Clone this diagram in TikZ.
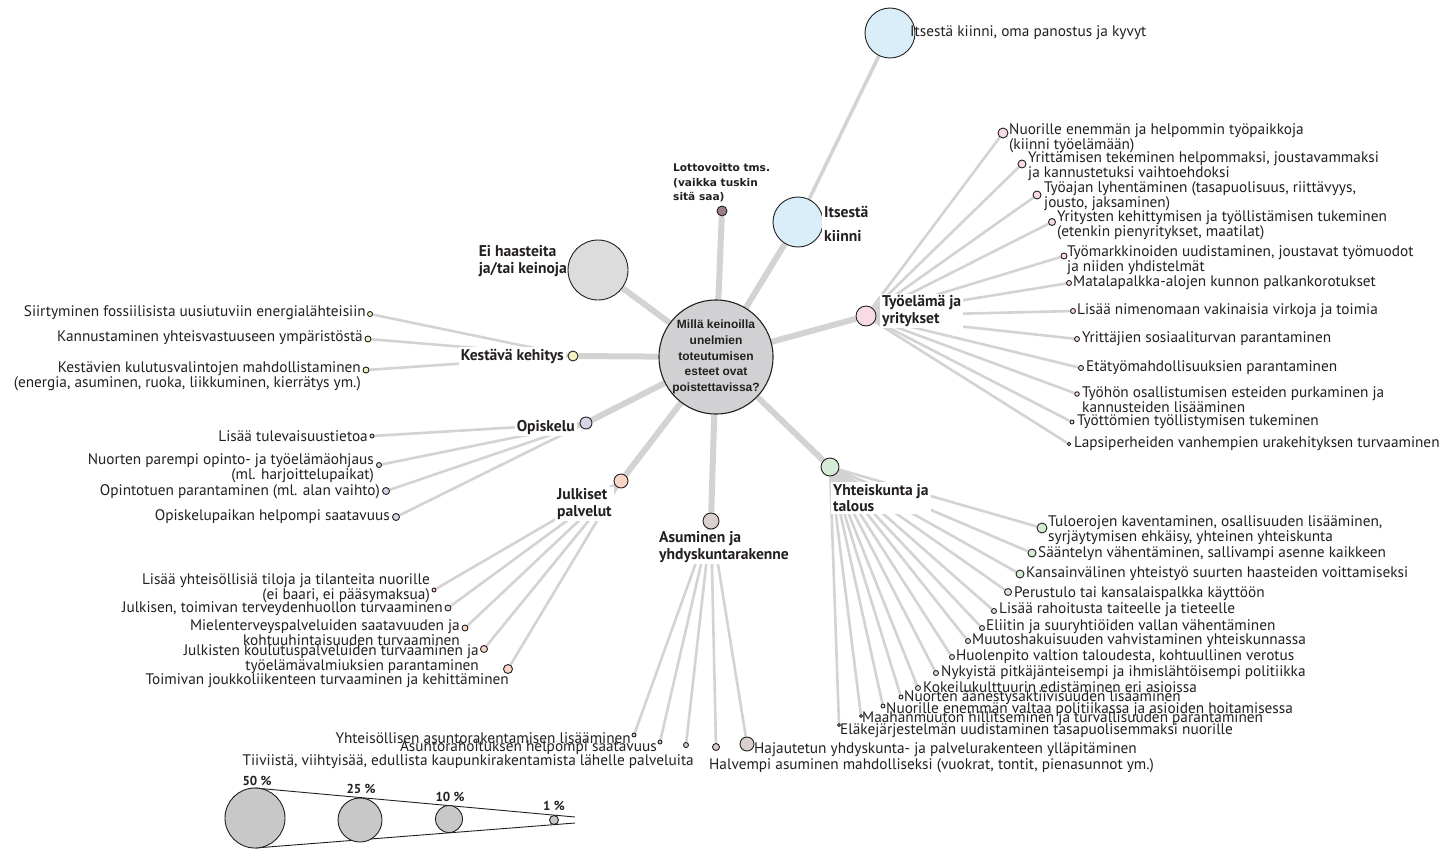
\documentclass[tikz,border=0pt]{standalone}
\usepackage{fontspec}
\setmainfont{PT Sans}
\newfontfamily\arialf{Liberation Sans}
\newfontfamily\verdf{DejaVu Sans}
\usetikzlibrary{backgrounds}
\definecolor{txt}{HTML}{231F20}
\definecolor{lgray}{HTML}{D3D3D3}
\definecolor{cfill}{HTML}{D1D1D3}
\definecolor{bfill}{HTML}{D9EEF9}
\definecolor{lotfill}{HTML}{9C7D8C}
\definecolor{eifill}{HTML}{DCDCDD}
\definecolor{yfill}{HTML}{F4F1C2}
\definecolor{ofill}{HTML}{D6D5EA}
\definecolor{jfill}{HTML}{F8D6C5}
\definecolor{afill}{HTML}{D9CFCD}
\definecolor{gfill}{HTML}{D6EAD6}
\definecolor{pfill}{HTML}{F8DBE4}
\definecolor{legfill}{HTML}{C8C8C8}
\newcommand\leaffont{\fontsize{15.3}{13.8}\selectfont}
\newcommand\hubfont{\fontsize{15.6}{16.5}\selectfont\bfseries}
\begin{document}
\begin{tikzpicture}[x=1pt,y=-1pt,
  bub/.style={circle, draw=txt, line width=0.9pt, inner sep=0pt, minimum size=#1},
  hubline/.style={line width=6pt, lgray},
  midline/.style={line width=3.5pt, lgray},
  leafline/.style={line width=2.6pt, lgray},
  lf/.style={font=\leaffont, text=txt, inner sep=1pt},
  lfl/.style={lf, anchor=west, align=left},
  lfr/.style={lf, anchor=east, align=right},
  hl/.style={font=\hubfont, text=txt, inner sep=2pt, fill=white}]
\useasboundingbox (0,0) rectangle (1456,852);

% ---- hubs
\node[bub=110pt, fill=cfill, line width=1.1pt, align=center, text=txt,
  font={\arialf\bfseries\fontsize{12}{15.7}\selectfont}] (C) at (716,357)
  {Millä keinoilla\\unelmien\\toteutumisen\\esteet ovat\\poistettavissa?};
\node[bub=50pt, fill=bfill] (I) at (798,222) {};
\node[bub=50pt, fill=bfill] (IT) at (890,33) {};
\node[bub=10pt, fill=lotfill] (L) at (722,211) {};
\node[bub=60pt, fill=eifill] (E) at (598,270) {};
\node[bub=10pt, fill=yfill] (K) at (573,356) {};
\node[bub=12pt, fill=ofill] (O) at (586,423) {};
\node[bub=14pt, fill=jfill] (J) at (621,481) {};
\node[bub=16pt, fill=afill] (A) at (711,521) {};
\node[bub=18pt, fill=gfill] (Y) at (830,467) {};
\node[bub=20pt, fill=pfill] (T) at (866,316) {};

% ---- hub labels
\node[lfl] (ITt) at (909,33) {Itsestä kiinni, oma panostus ja kyvyt};
\node[hl, anchor=west, align=left, font=\fontsize{15.6}{24}\selectfont\bfseries] (It) at (822,224) {Itsestä\\kiinni};
\node[anchor=west, align=left, text=txt, inner sep=1pt,
  font={\verdf\bfseries\fontsize{10.6}{14.5}\selectfont}] (Lt) at (672,183)
  {Lottovoitto tms.\\(vaikka tuskin\\sitä saa)};
\node[hl, anchor=east, align=left, fill=none] (Et) at (569,261) {Ei haasteita\\ja/tai keinoja};
\node[hl, anchor=east] (Kt) at (566,356) {Kestävä kehitys};
\node[hl, anchor=east] (Ot) at (577,427) {Opiskelu};
\node[hl, anchor=west, align=left] (Jt) at (555,504) {Julkiset\\palvelut};
\node[hl, anchor=west, align=left] (At) at (657,547) {Asuminen ja\\yhdyskuntarakenne};
\node[hl, anchor=west, align=left] (Yt) at (831,498) {Yhteiskunta ja\\talous};
\node[hl, anchor=west, align=left] (Tt) at (880,311) {Työelämä ja\\yritykset};

% ---- Työelämä leaves
\node[bub=10pt, fill=pfill] (t1) at (1003,133) {};
\node[bub=8pt, fill=pfill] (t2) at (1022,164) {};
\node[bub=8pt, fill=pfill] (t3) at (1037,195) {};
\node[bub=7pt, fill=pfill] (t4) at (1052,222) {};
\node[bub=6pt, fill=pfill] (t5) at (1064,256) {};
\node[bub=5pt, fill=pfill] (t6) at (1069,283) {};
\node[bub=5pt, fill=pfill] (t7) at (1073,311) {};
\node[bub=5pt, fill=pfill] (t8) at (1077,339) {};
\node[bub=5pt, fill=pfill] (t9) at (1081,368) {};
\node[bub=4.5pt, fill=pfill] (t10) at (1077,394) {};
\node[bub=4pt, fill=pfill] (t11) at (1072,422) {};
\node[bub=3.5pt, fill=pfill] (t12) at (1069,444) {};
\node[lfl] at (1008,138) {Nuorille enemmän ja helpommin työpaikkoja\\(kiinni työelämään)};
\node[lfl] at (1027,166) {Yrittämisen tekeminen helpommaksi, joustavammaksi\\ja kannustetuksi vaihtoehdoksi};
\node[lfl] at (1043,196) {Työajan lyhentäminen (tasapuolisuus, riittävyys,\\jousto, jaksaminen)};
\node[lfl] at (1056,225) {Yritysten kehittymisen ja työllistämisen tukeminen\\(etenkin pienyritykset, maatilat)};
\node[lfl] at (1066,260) {Työmarkkinoiden uudistaminen, joustavat työmuodot\\ja niiden yhdistelmät};
\node[lfl] at (1072,283) {Matalapalkka-alojen kunnon palkankorotukset};
\node[lfl] at (1076,311) {Lisää nimenomaan vakinaisia virkoja ja toimia};
\node[lfl] at (1081,339) {Yrittäjien sosiaaliturvan parantaminen};
\node[lfl] at (1085,368) {Etätyömahdollisuuksien parantaminen};
\node[lfl] at (1081,400) {Työhön osallistumisen esteiden purkaminen ja\\kannusteiden lisääminen};
\node[lfl] at (1076,422) {Työttömien työllistymisen tukeminen};
\node[lfl] at (1073,444) {Lapsiperheiden vanhempien urakehityksen turvaaminen};

% ---- Kestävä leaves
\node[bub=5pt, fill=yfill] (k1) at (370,314) {};
\node[bub=6pt, fill=yfill] (k2) at (368,339) {};
\node[bub=6pt, fill=yfill] (k3) at (366,370) {};
\node[lfr] at (367,313) {Siirtyminen fossiilisista uusiutuviin energialähteisiin};
\node[lfr] at (364,338) {Kannustaminen yhteisvastuuseen ympäristöstä};
\node[lfr] at (362,376) {Kestävien kulutusvalintojen mahdollistaminen\\(energia, asuminen, ruoka, liikkuminen, kierrätys ym.)};

% ---- Opiskelu leaves
\node[bub=4pt, fill=ofill] (o1) at (372,436) {};
\node[bub=5pt, fill=ofill] (o2) at (379,465) {};
\node[bub=7pt, fill=ofill] (o3) at (386,491) {};
\node[bub=7pt, fill=ofill] (o4) at (396,517) {};
\node[lfr] at (369,436) {Lisää tulevaisuustietoa};
\node[lfr] at (375,468) {Nuorten parempi opinto- ja työelämäohjaus\\(ml. harjoittelupaikat)};
\node[lfr] at (381,492) {Opintotuen parantaminen (ml. alan vaihto)};
\node[lfr] at (391,517) {Opiskelupaikan helpompi saatavuus};

% ---- Julkiset leaves
\node[bub=4pt, fill=jfill] (j1) at (434,590) {};
\node[bub=6pt, fill=jfill] (j2) at (448,608) {};
\node[bub=6pt, fill=jfill] (j3) at (465,628) {};
\node[bub=7pt, fill=jfill] (j4) at (484,649) {};
\node[bub=9pt, fill=jfill] (j5) at (508,669) {};
\node[lfr] at (431,588) {Lisää yhteisöllisiä tiloja ja tilanteita nuorille\\(ei baari, ei pääsymaksua)};
\node[lfr] at (444,609) {Julkisen, toimivan terveydenhuollon turvaaminen};
\node[lfr] at (461,633) {Mielenterveyspalveluiden saatavuuden ja\\kohtuuhintaisuuden turvaaminen};
\node[lfr] at (480,659) {Julkisten koulutuspalveluiden turvaaminen ja\\työelämävalmiuksien parantaminen};
\node[lfr] at (510,681) {Toimivan joukkoliikenteen turvaaminen ja kehittäminen};

% ---- Asuminen leaves
\node[bub=4pt, fill=afill] (a1) at (634,735) {};
\node[bub=4pt, fill=afill] (a2) at (660,742) {};
\node[bub=5pt, fill=afill] (a3) at (686,745) {};
\node[bub=7pt, fill=afill] (a4) at (716,747) {};
\node[bub=14pt, fill=afill] (a5) at (747,744) {};
\node[lfr] at (632,738) {Yhteisöllisen asuntorakentamisen lisääminen};
\node[lfr] at (658,748) {Asuntorahoituksen helpompi saatavuus};
\node[lfr] at (695,762) {Tiiviistä, viihtyisää, edullista kaupunkirakentamista lähelle palveluita};
\node[lfl] at (708,766) {Halvempi asuminen mahdolliseksi (vuokrat, tontit, pienasunnot ym.)};
\node[lfl] at (753,750) {Hajautetun yhdyskunta- ja palvelurakenteen ylläpitäminen};

% ---- Yhteiskunta leaves
\node[bub=10pt, fill=gfill] (y1) at (1042,528) {};
\node[bub=8pt, fill=gfill] (y2) at (1032,553) {};
\node[bub=8pt, fill=gfill] (y3) at (1020,574) {};
\node[bub=7pt, fill=gfill] (y4) at (1008,592) {};
\node[bub=5pt, fill=gfill] (y5) at (994,611) {};
\node[bub=5pt, fill=gfill] (y6) at (982,628) {};
\node[bub=5pt, fill=gfill] (y7) at (968,641) {};
\node[bub=5pt, fill=gfill] (y8) at (952,657) {};
\node[bub=5pt, fill=gfill] (y9) at (936,673) {};
\node[bub=5pt, fill=gfill] (y10) at (918,688) {};
\node[bub=4pt, fill=gfill] (y11) at (901,697) {};
\node[bub=4pt, fill=gfill] (y12) at (883,706) {};
\node[bub=3pt, fill=gfill] (y13) at (861,716) {};
\node[bub=3pt, fill=gfill] (y14) at (839,725) {};
\node[lfl] at (1047,530) {Tuloerojen kaventaminen, osallisuuden lisääminen,\\syrjäytymisen ehkäisy, yhteinen yhteiskunta};
\node[lfl] at (1037,554) {Sääntelyn vähentäminen, sallivampi asenne kaikkeen};
\node[lfl] at (1025,574) {Kansainvälinen yhteistyö suurten haasteiden voittamiseksi};
\node[lfl] at (1013,594) {Perustulo tai kansalaispalkka käyttöön};
\node[lfl] at (998,610) {Lisää rahoitusta taiteelle ja tieteelle};
\node[lfl] at (985,627) {Eliitin ja suuryhtiöiden vallan vähentäminen};
\node[lfl] at (971,641) {Muutoshakuisuuden vahvistaminen yhteiskunnassa};
\node[lfl] at (955,657) {Huolenpito valtion taloudesta, kohtuullinen verotus};
\node[lfl] at (940,673) {Nykyistä pitkäjänteisempi ja ihmislähtöisempi politiikka};
\node[lfl] at (922,687) {Kokeilukulttuurin edistäminen eri asioissa};
\node[lfl] at (903,698) {Nuorten äänestysaktiivisuuden lisääminen};
\node[lfl] at (885,710) {Nuorille enemmän valtaa politiikassa ja asioiden hoitamisessa};
\node[lfl] at (861,719) {Maahanmuuton hillitseminen ja turvallisuuden parantaminen};
\node[lfl] at (839,731) {Eläkejärjestelmän uudistaminen tasapuolisemmaksi nuorille};

% ---- connectors
\begin{pgfonlayer}{background}
  \foreach \h in {I,L,E,K,O,J,A,Y,T} \draw[hubline] (C) -- (\h);
  \draw[midline] (I) -- (IT);
  \foreach \i in {1,...,12} \draw[leafline] (T) -- (t\i);
  \foreach \i in {1,2,3} \draw[leafline] (K) -- (k\i);
  \foreach \i in {1,...,4} \draw[leafline] (O) -- (o\i);
  \foreach \i in {1,...,5} \draw[leafline] (J) -- (j\i);
  \foreach \i in {1,...,5} \draw[leafline] (A) -- (a\i);
  \foreach \i in {1,...,14} \draw[leafline] (Y) -- (y\i);
\end{pgfonlayer}

% ---- legend
\coordinate (g1) at (255,788);
\coordinate (g2) at (255,848);
\coordinate (g3) at (575,817);
\coordinate (g4) at (575,823);
\draw[txt, line width=0.9pt] (g1) -- (g3) (g2) -- (g4);
\node[bub=60pt, fill=legfill] (p50) at (255,818) {};
\node[bub=44pt, fill=legfill] (p25) at (360,820) {};
\node[bub=27pt, fill=legfill] (p10) at (449,819) {};
\node[bub=9pt, fill=legfill] (p1) at (554,820) {};
\begin{scope}[every node/.style={font=\fontsize{13}{13}\selectfont\bfseries, text=txt, inner sep=0pt}]
\node (q50) at (257,781) {50 \%};
\node (q25) at (361,789) {25 \%};
\node (q10) at (450,797) {10 \%};
\node (q1) at (554,806) {1 \%};
\end{scope}
\end{tikzpicture}
\end{document}
